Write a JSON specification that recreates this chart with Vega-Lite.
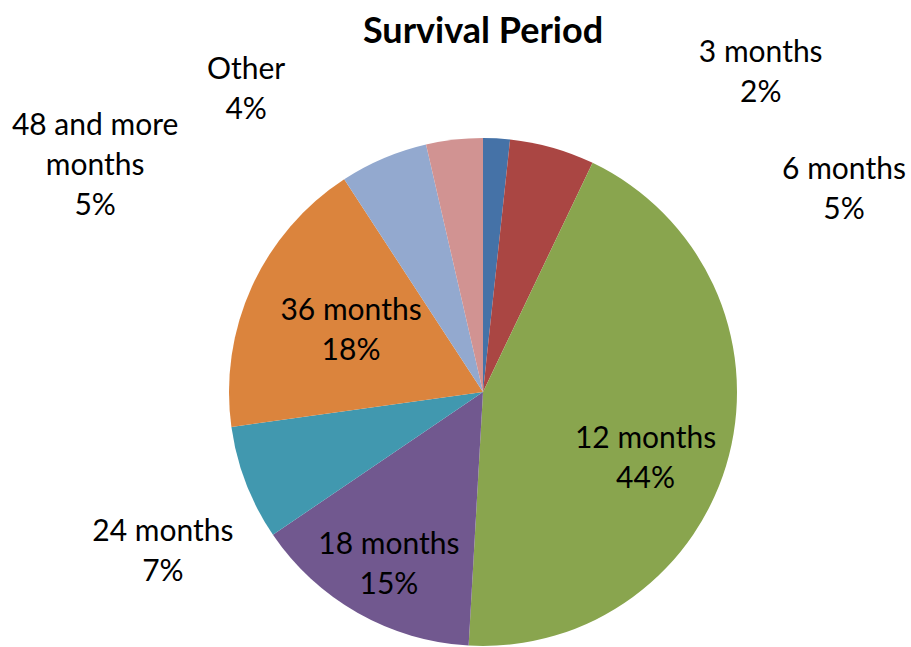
{
  "$schema": "https://vega.github.io/schema/vega-lite/v6.json",
  "width": 508,
  "height": 508,
  "autosize": {"type": "none"},
  "padding": {"left": 229, "top": 138, "right": 174, "bottom": 1},
  "background": "white",
  "config": {"view": {"stroke": null}},
  "title": {"text": "Survival Period", "anchor": "middle", "frame": "group", "offset": -41, "baseline": "alphabetic", "font": "Lato", "fontSize": 36, "fontWeight": "bold", "color": "black"},
  "data": {"values": [
    {"cat": "3 months", "value": 1.7, "rank": 1, "label": ["3 months", "2%"]},
    {"cat": "6 months", "value": 5.4, "rank": 2, "label": ["6 months", "5%"]},
    {"cat": "12 months", "value": 43.8, "rank": 3, "label": ["12 months", "44%"]},
    {"cat": "18 months", "value": 14.6, "rank": 4, "label": ["18 months", "15%"]},
    {"cat": "24 months", "value": 7.3, "rank": 5, "label": ["24 months", "7%"]},
    {"cat": "36 months", "value": 18.0, "rank": 6, "label": ["36 months", "18%"]},
    {"cat": "48 and more months", "value": 5.6, "rank": 7, "label": ["48 and more", "months", "5%"]},
    {"cat": "Other", "value": 3.6, "rank": 8, "label": ["Other", "4%"]}
  ]},
  "encoding": {
    "theta": {"field": "value", "type": "quantitative", "stack": true},
    "order": {"field": "rank", "type": "quantitative"}
  },
  "layer": [
    {"mark": {"type": "arc", "outerRadius": 254, "strokeWidth": 0},
     "encoding": {"color": {"field": "cat", "type": "nominal", "legend": null,
       "scale": {"domain": ["3 months", "6 months", "12 months", "18 months", "24 months", "36 months", "48 and more months", "Other"],
                 "range": ["#4572A7", "#AA4643", "#89A54E", "#71588F", "#4198AF", "#DB843D", "#93A9CF", "#D19392"]}}}},
    {"mark": {"type": "text", "radius": 332, "dx": 260, "dy": -7, "font": "Lato", "fontSize": 30, "lineHeight": 40, "align": "center", "baseline": "middle", "color": "black"},
     "encoding": {"detail": {"field": "cat"}, "text": {"condition": {"test": "datum.cat === '3 months'", "field": "label"}, "value": ""}}},
    {"mark": {"type": "text", "radius": 293, "dx": 281, "dy": 60, "font": "Lato", "fontSize": 30, "lineHeight": 40, "align": "center", "baseline": "middle", "color": "black"},
     "encoding": {"detail": {"field": "cat"}, "text": {"condition": {"test": "datum.cat === '6 months'", "field": "label"}, "value": ""}}},
    {"mark": {"type": "text", "radius": 174, "dx": -6, "dy": 4, "font": "Lato", "fontSize": 30, "lineHeight": 40, "align": "center", "baseline": "middle", "color": "black"},
     "encoding": {"detail": {"field": "cat"}, "text": {"condition": {"test": "datum.cat === '12 months'", "field": "label"}, "value": ""}}},
    {"mark": {"type": "text", "radius": 197, "dx": 3, "dy": -18, "font": "Lato", "fontSize": 30, "lineHeight": 40, "align": "center", "baseline": "middle", "color": "black"},
     "encoding": {"detail": {"field": "cat"}, "text": {"condition": {"test": "datum.cat === '18 months'", "field": "label"}, "value": ""}}},
    {"mark": {"type": "text", "radius": 342, "dx": -1, "dy": 17, "font": "Lato", "fontSize": 30, "lineHeight": 40, "align": "center", "baseline": "middle", "color": "black"},
     "encoding": {"detail": {"field": "cat"}, "text": {"condition": {"test": "datum.cat === '24 months'", "field": "label"}, "value": ""}}},
    {"mark": {"type": "text", "radius": 145, "dx": 0, "dy": -21, "font": "Lato", "fontSize": 30, "lineHeight": 40, "align": "center", "baseline": "middle", "color": "black"},
     "encoding": {"detail": {"field": "cat"}, "text": {"condition": {"test": "datum.cat === '36 months'", "field": "label"}, "value": ""}}},
    {"mark": {"type": "text", "radius": 360, "dx": -247, "dy": 65, "font": "Lato", "fontSize": 30, "lineHeight": 40, "align": "center", "baseline": "middle", "color": "black"},
     "encoding": {"detail": {"field": "cat"}, "text": {"condition": {"test": "datum.cat === '48 and more months'", "field": "label"}, "value": ""}}},
    {"mark": {"type": "text", "radius": 327, "dx": -200, "dy": 3, "font": "Lato", "fontSize": 30, "lineHeight": 40, "align": "center", "baseline": "middle", "color": "black"},
     "encoding": {"detail": {"field": "cat"}, "text": {"condition": {"test": "datum.cat === 'Other'", "field": "label"}, "value": ""}}}
  ]
}
